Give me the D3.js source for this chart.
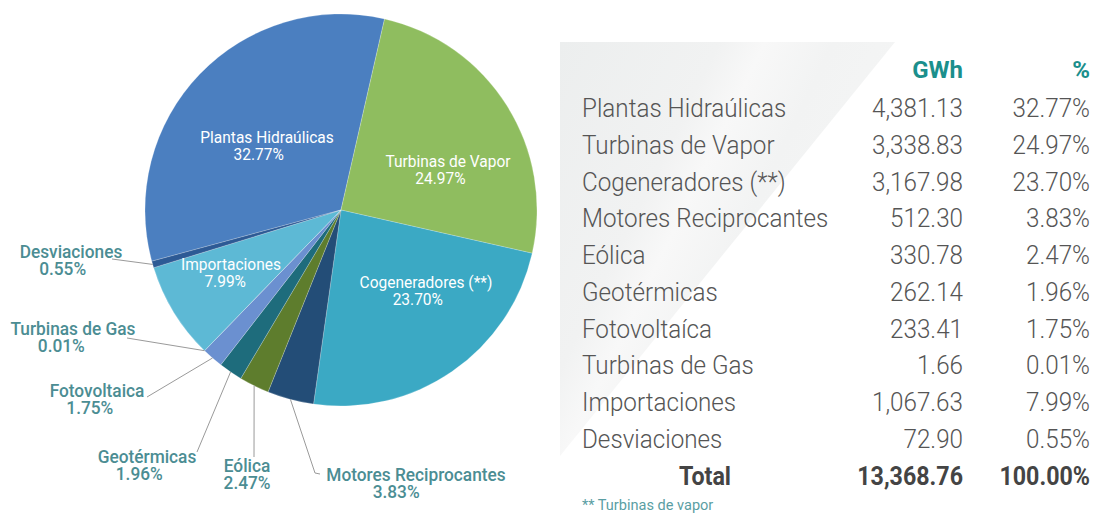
<!DOCTYPE html>
<html lang="es">
<head>
<meta charset="UTF-8">
<title>Generación por tecnología</title>
<script src="https://d3js.org/d3.v7.min.js"></script>
<style>
  body { margin: 0; background: #fff; }
  svg { display: block; font-family: Roboto, "Open Sans", sans-serif; }
</style>
</head>
<body>
<div id="chart"></div>
<script>
  // data
  const categories = ["Plantas Hidraúlicas", "Turbinas de Vapor", "Cogeneradores (**)", "Motores Reciprocantes",
    "Eólica", "Geotérmicas", "Fotovoltaíca", "Turbinas de Gas", "Importaciones", "Desviaciones"];
  const pieNames = ["Plantas Hidraúlicas", "Turbinas de Vapor", "Cogeneradores (**)", "Motores Reciprocantes",
    "Eólica", "Geotérmicas", "Fotovoltaica", "Turbinas de Gas", "Importaciones", "Desviaciones"];
  const gwh = [4381.13, 3338.83, 3167.98, 512.30, 330.78, 262.14, 233.41, 1.66, 1067.63, 72.90];
  const pct = [32.77, 24.97, 23.70, 3.83, 2.47, 1.96, 1.75, 0.01, 7.99, 0.55];
  const totalGwh = 13368.76;
  const totalPct = 100.00;
  const colors = ["#4b7fc0", "#8fbd5f", "#3ba9c4", "#234d77", "#5e7d2d", "#1e6c7c", "#6b90d0", "#4f78b8", "#5db9d5", "#2d5a95"];

  const width = 1097, height = 516;
  const cx = 341, cy = 210, R = 196;

  const svg = d3.select("#chart").append("svg")
    .attr("width", width).attr("height", height);

  const fmtG = d3.format(",.2f");
  const fmtP = d => d3.format(".2f")(d) + "%";

  // helper: text with a horizontal squeeze (the original face is narrow)
  function ctext(g, x, y, str, opts) {
    return g.append("text")
      .attr("transform", `translate(${x},${y}) scale(${opts.k},1)`)
      .attr("text-anchor", opts.anchor || "start")
      .attr("font-size", opts.size)
      .attr("font-weight", opts.weight || 400)
      .attr("fill", opts.fill)
      .text(str);
  }

  // ---- table panel ----
  const defs = svg.append("defs");
  const grad = defs.append("linearGradient").attr("id", "panel")
    .attr("x1", "0").attr("y1", "0").attr("x2", "1").attr("y2", "0.6");
  grad.append("stop").attr("offset", "0%").attr("stop-color", "#eceeee");
  grad.append("stop").attr("offset", "35%").attr("stop-color", "#f1f2f2");
  grad.append("stop").attr("offset", "45%").attr("stop-color", "#f8f8f8");
  grad.append("stop").attr("offset", "60%").attr("stop-color", "#f2f3f3");
  grad.append("stop").attr("offset", "100%").attr("stop-color", "#f6f7f7");

  svg.append("path")
    .attr("d", "M560,42 L895,42 L560,456 Z")
    .attr("fill", "url(#panel)");

  // ---- pie ----
  const pie = d3.pie().sort(null).value(d => d.v)
    .startAngle(-1.835).endAngle(-1.835 + 2 * Math.PI);
  const arcs = pie(gwh.map((v, i) => ({ v, name: pieNames[i], pct: pct[i], color: colors[i] })));
  const arc = d3.arc().innerRadius(0).outerRadius(R);
  const edge = d3.arc().innerRadius(R).outerRadius(R);

  const gPie = svg.append("g").attr("transform", `translate(${cx},${cy})`);
  gPie.selectAll("path.slice").data(arcs).join("path")
    .attr("class", "slice")
    .attr("d", arc)
    .attr("fill", d => d.data.color)
    .attr("stroke", "#ffffff")
    .attr("stroke-opacity", 0.35)
    .attr("stroke-width", 0.6);

  // label layout (offsets from pie centre)
  const inside = new Map([
    ["Plantas Hidraúlicas", [-74, -67]],
    ["Turbinas de Vapor", [107, -43]],
    ["Cogeneradores (**)", [85, 78]],
    ["Importaciones", [-110, 60]]
  ]);
  // text centre / first baseline, leader end
  const outside = new Map([
    ["Desviaciones", { t: [-270, 48], e: [-229, 49] }],
    ["Turbinas de Gas", { t: [-268, 125], e: [-214, 128] }],
    ["Fotovoltaica", { t: [-244, 187], e: [-194, 187] }],
    ["Geotérmicas", { t: [-194, 253], e: [-144, 242] }],
    ["Eólica", { t: [-94, 262], e: [-87, 247] }],
    ["Motores Reciprocantes", { t: [75, 271], e: [-26, 263], hook: [-21, 264] }]
  ]);

  const gLab = gPie.append("g");
  function twoLines(x, y, name, p, o) {
    const t1 = ctext(gLab, x, y, name, o);
    const w1 = t1.node().getBBox().width * o.k;
    const t2 = ctext(gLab, x, y + o.gap, p, o);
    const w2 = t2.node().getBBox().width * o.k;
    t2.attr("transform", `translate(${x - (w1 - w2) * o.shift},${y + o.gap}) scale(${o.k},1)`);
  }

  arcs.forEach(d => {
    const name = d.data.name;
    if (inside.has(name)) {
      const [x, y] = inside.get(name);
      twoLines(x, y, name, fmtP(d.data.pct),
        { anchor: "middle", size: 16.5, k: 0.94, gap: 17, shift: 0.1, fill: "#ffffff" });
    } else if (outside.has(name)) {
      const o = outside.get(name);
      const [sx, sy] = edge.centroid(d);
      const pts = [[sx, sy], o.e];
      if (o.hook) pts.push(o.hook);
      gLab.append("path")
        .attr("d", d3.line()(pts))
        .attr("fill", "none")
        .attr("stroke", "#9a9a9a")
        .attr("stroke-width", 1);
      const [x, y] = o.t;
      twoLines(x, y, name, fmtP(d.data.pct),
        { anchor: "middle", size: 18, k: 0.96, weight: 500, gap: 16.5, shift: 0.15, fill: "#4b8d93" });
    }
  });

  // ---- table ----
  const rows = d3.scalePoint().domain(categories).range([117, 448]);
  const colName = 582, colG = 963, colP = 1090;
  const gTab = svg.append("g");

  ctext(gTab, colG, 78, "GWh", { anchor: "end", size: 24, k: 1, weight: 700, fill: "#1b8f8c" });
  ctext(gTab, colP, 78, "%", { anchor: "end", size: 24, k: 1, weight: 700, fill: "#1b8f8c" });

  const rowStyle = { size: 25.5, k: 0.95, weight: 300, fill: "#555555" };
  categories.forEach((c, i) => {
    const y = rows(c);
    ctext(gTab, colName, y, c, rowStyle);
    ctext(gTab, colG, y, fmtG(gwh[i]), { ...rowStyle, anchor: "end" });
    ctext(gTab, colP, y, fmtP(pct[i]), { ...rowStyle, anchor: "end" });
  });

  const yTot = 485;
  const totStyle = { anchor: "end", size: 25, k: 0.93, weight: 700, fill: "#444444" };
  ctext(gTab, 731, yTot, "Total", totStyle);
  ctext(gTab, colG, yTot, fmtG(totalGwh), totStyle);
  ctext(gTab, colP, yTot, fmtP(totalPct), totStyle);

  ctext(gTab, colName, 510, "** Turbinas de vapor", { size: 15, k: 0.97, fill: "#5a9ea3" });
</script>
</body>
</html>
